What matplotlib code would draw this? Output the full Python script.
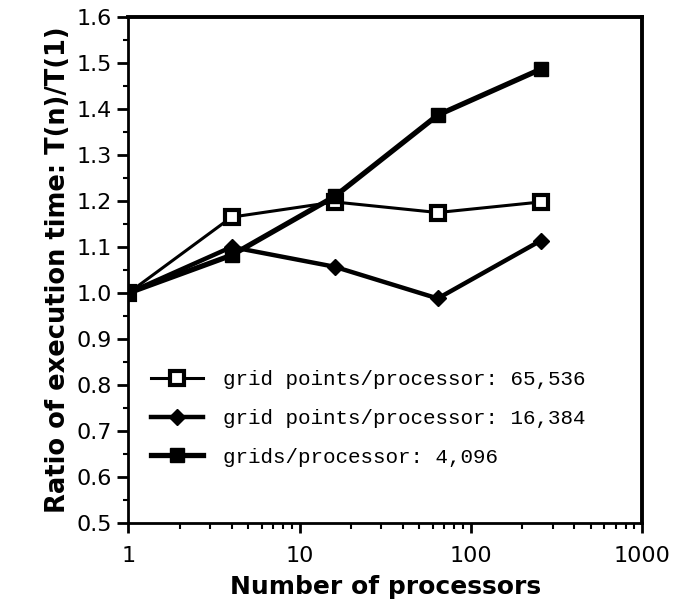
import matplotlib
matplotlib.use("Agg")
import matplotlib.pyplot as plt
from matplotlib.ticker import FixedLocator, MultipleLocator, LogLocator, NullFormatter

# processor counts and normalised execution times T(n)/T(1)
processors = [1, 4, 16, 64, 256]
ratio_65536 = [1.0, 1.165, 1.198, 1.175, 1.198]
ratio_16384 = [1.0, 1.100, 1.057, 0.988, 1.114]
ratio_4096 = [1.0, 1.082, 1.210, 1.387, 1.487]

labels = [
    "grid points/processor: 65,536",
    "grid points/processor: 16,384",
    "grids/processor: 4,096",
]
x_ticks = [1, 10, 100, 1000]
x_tick_labels = ["1", "10", "100", "1000"]

fig = plt.figure(figsize=(6.76, 6.15), dpi=100)
ax = fig.add_axes([0.19, 0.150, 0.76, 0.822])

ax.plot(processors, ratio_65536, color="black", lw=2.2, marker="s", ms=9.5,
        mfc="white", mec="black", mew=3, label=labels[0], zorder=3)
ax.plot(processors, ratio_16384, color="black", lw=3.2, marker="D", ms=8.5,
        mfc="black", mec="black", label=labels[1], zorder=3)
ax.plot(processors, ratio_4096, color="black", lw=3.8, marker="s", ms=10.5,
        mfc="black", mec="black", label=labels[2], zorder=3)

ax.set_xscale("log")
ax.set_xlim(1, 1000)
ax.set_ylim(0.5, 1.6)

ax.xaxis.set_major_locator(FixedLocator(x_ticks))
ax.set_xticklabels(x_tick_labels)
ax.xaxis.set_minor_locator(LogLocator(base=10, subs=range(2, 10)))
ax.xaxis.set_minor_formatter(NullFormatter())
ax.yaxis.set_major_locator(MultipleLocator(0.1))
ax.yaxis.set_minor_locator(MultipleLocator(0.05))
ax.yaxis.set_major_formatter(matplotlib.ticker.FormatStrFormatter("%.1f"))

ax.tick_params(axis="y", which="major", direction="out", length=8, width=2,
               labelsize=16, pad=4)
ax.tick_params(axis="y", which="minor", direction="out", length=3.5, width=1.5)
ax.tick_params(axis="x", which="major", direction="out", length=7, width=2,
               labelsize=16, pad=10)
ax.tick_params(axis="x", which="minor", direction="out", length=4, width=1.5)

for side in ["left", "bottom"]:
    ax.spines[side].set_linewidth(2)
for side in ["top", "right"]:
    ax.spines[side].set_linewidth(2.8)

ax.set_xlabel("Number of processors", fontsize=18, fontweight="bold", labelpad=6)
ax.set_ylabel("Ratio of execution time: T(n)/T(1)", fontsize=18.5,
              fontweight="bold", labelpad=4)

leg = ax.legend(loc="upper left", bbox_to_anchor=(0.043, 0.302), frameon=False,
                prop={"family": ["Liberation Mono", "DejaVu Sans Mono"], "size": 15},
                handlelength=2.5, handletextpad=1.0, labelspacing=0.95,
                borderpad=0, borderaxespad=0)

fig.savefig("out.png", dpi=100)
